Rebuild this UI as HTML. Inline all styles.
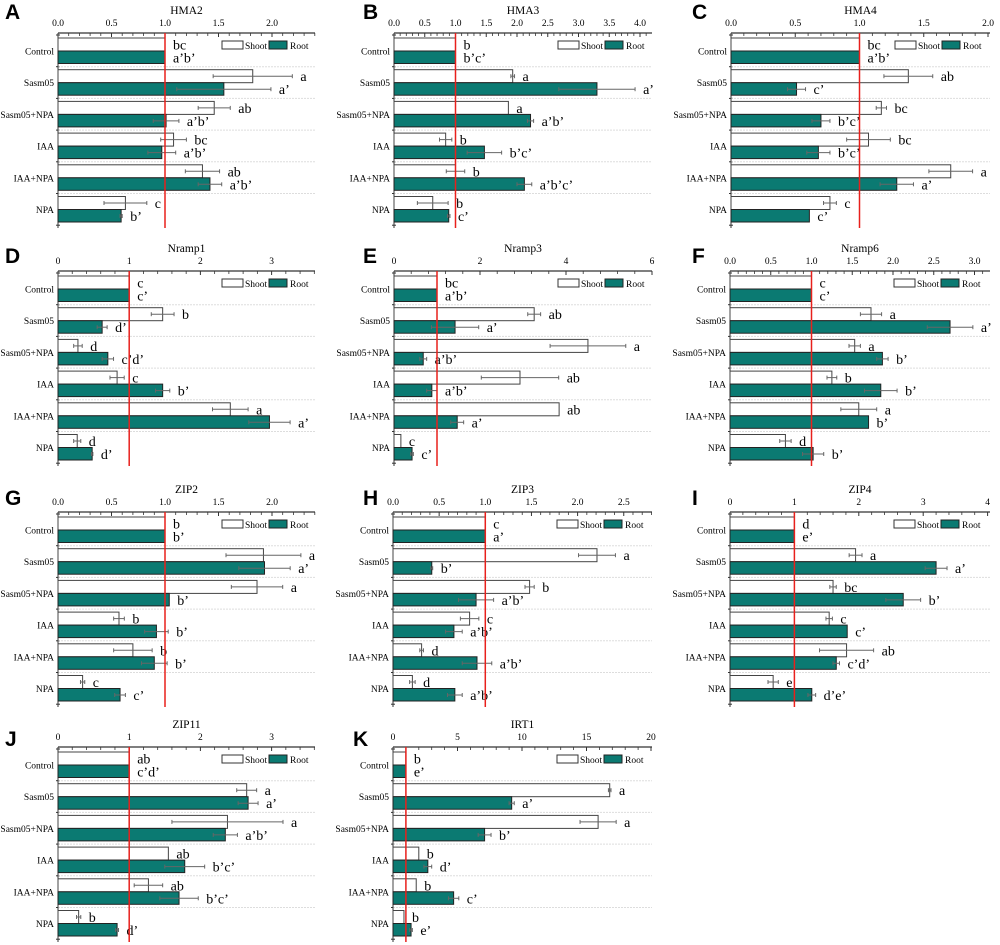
<!DOCTYPE html>
<html><head><meta charset="utf-8">
<style>
body{margin:0;background:#fff;}
svg{display:block;font-family:"Liberation Serif",serif;}
</style></head>
<body>
<svg id="fig" width="1000" height="945" viewBox="0 0 1000 945"></svg>
<script>
const categories = ["Control","Sasm05","Sasm05+NPA","IAA","IAA+NPA","NPA"];

const hma2Shoot = [1,1.82,1.46,1.08,1.35,0.63];
const hma2ShootErr = [0,0.37,0.15,0.12,0.16,0.2];
const hma2Root = [1,1.55,1.01,0.97,1.42,0.59];
const hma2RootErr = [0,0.44,0.12,0.13,0.11,0.01];
const hma2ShootLet = ["bc","a","ab","bc","ab","c"];
const hma2RootLet = ["a'b'","a'","a'b'","a'b'","a'b'","b'"];
const hma2Ticks = [0,0.5,1,1.5,2];

const hma3Shoot = [1,1.93,1.86,0.84,1.0,0.63];
const hma3ShootErr = [0,0.03,0,0.1,0.15,0.25];
const hma3Root = [1,3.3,2.22,1.47,2.12,0.89];
const hma3RootErr = [0,0.62,0.05,0.28,0.12,0.02];
const hma3ShootLet = ["b","a","a","b","b","b"];
const hma3RootLet = ["b'c'","a'","a'b'","b'c'","a'b'c'","c'"];
const hma3Ticks = [0,0.5,1,1.5,2,2.5,3,3.5,4];

const hma4Shoot = [1,1.38,1.17,1.07,1.71,0.77];
const hma4ShootErr = [0,0.19,0.04,0.17,0.17,0.05];
const hma4Root = [1,0.51,0.70,0.68,1.29,0.61];
const hma4RootErr = [0,0.07,0.07,0.09,0.13,0];
const hma4ShootLet = ["bc","ab","bc","bc","a","c"];
const hma4RootLet = ["a'b'","c'","b'c'","b'c'","a'","c'"];
const hma4Ticks = [0,0.5,1,1.5,2];

const nramp1Shoot = [1,1.47,0.28,0.83,2.42,0.27];
const nramp1ShootErr = [0,0.16,0.06,0.1,0.25,0.05];
const nramp1Root = [1,0.62,0.70,1.47,2.97,0.48];
const nramp1RootErr = [0,0.07,0.08,0.1,0.29,0.01];
const nramp1ShootLet = ["c","b","d","c","a","d"];
const nramp1RootLet = ["c'","d'","c'd'","b'","a'","d'"];
const nramp1Ticks = [0,1,2,3];

const nramp3Shoot = [1,3.26,4.51,2.93,3.84,0.16];
const nramp3ShootErr = [0,0.15,0.88,0.9,0,0];
const nramp3Root = [1,1.42,0.68,0.88,1.47,0.42];
const nramp3RootErr = [0,0.55,0.08,0.12,0.15,0.03];
const nramp3ShootLet = ["bc","ab","a","ab","ab","c"];
const nramp3RootLet = ["a'b'","a'","a'b'","a'b'","a'","c'"];
const nramp3Ticks = [0,2,4,6];

const nramp6Shoot = [1,1.73,1.53,1.25,1.58,0.68];
const nramp6ShootErr = [0,0.13,0.07,0.06,0.22,0.07];
const nramp6Root = [1,2.7,1.87,1.85,1.7,1.02];
const nramp6RootErr = [0,0.28,0.07,0.2,0,0.13];
const nramp6ShootLet = ["c","a","a","b","a","d"];
const nramp6RootLet = ["c'","a'","b'","b'","b'","b'"];
const nramp6Ticks = [0,0.5,1,1.5,2,2.5,3];

const zip2Shoot = [1,1.92,1.86,0.57,0.70,0.23];
const zip2ShootErr = [0,0.35,0.24,0.05,0.18,0.02];
const zip2Root = [1,1.93,1.04,0.92,0.90,0.58];
const zip2RootErr = [0,0.24,0,0.11,0.12,0.05];
const zip2ShootLet = ["b","a","a","b","b","c"];
const zip2RootLet = ["b'","a'","b'","b'","b'","c'"];
const zip2Ticks = [0,0.5,1,1.5,2];

const zip3Shoot = [1,2.21,1.48,0.83,0.31,0.21];
const zip3ShootErr = [0,0.2,0.05,0.1,0.02,0.03];
const zip3Root = [1,0.42,0.9,0.66,0.91,0.67];
const zip3RootErr = [0,0.01,0.19,0.09,0.16,0.08];
const zip3ShootLet = ["c","a","b","c","d","d"];
const zip3RootLet = ["a'","b'","a'b'","a'b'","a'b'","a'b'"];
const zip3Ticks = [0,0.5,1,1.5,2,2.5];

const zip4Shoot = [1,1.95,1.6,1.54,1.81,0.67];
const zip4ShootErr = [0,0.1,0.05,0.05,0.42,0.08];
const zip4Root = [1,3.2,2.69,1.82,1.65,1.27];
const zip4RootErr = [0,0.17,0.27,0,0.05,0.06];
const zip4ShootLet = ["d","a","bc","c","ab","e"];
const zip4RootLet = ["e'","a'","b'","c'","c'd'","d'e'"];
const zip4Ticks = [0,1,2,3,4];

const zip11Shoot = [1,2.65,2.38,1.55,1.27,0.29];
const zip11ShootErr = [0,0.14,0.78,0,0.2,0.03];
const zip11Root = [1,2.67,2.35,1.78,1.7,0.83];
const zip11RootErr = [0,0.14,0.17,0.28,0.27,0.02];
const zip11ShootLet = ["ab","a","a","ab","ab","b"];
const zip11RootLet = ["c'd'","a'","a'b'","b'c'","b'c'","d'"];
const zip11Ticks = [0,1,2,3];

const irt1Shoot = [1,16.8,15.9,2.0,1.8,0.85];
const irt1ShootErr = [0,0.1,1.4,0,0,0];
const irt1Root = [1,9.2,7.1,2.7,4.7,1.4];
const irt1RootErr = [0,0.2,0.5,0.3,0.4,0.1];
const irt1ShootLet = ["b","a","a","b","b","b"];
const irt1RootLet = ["e'","a'","b'","d'","c'","e'"];
const irt1Ticks = [0,5,10,15,20];

const NS = "http://www.w3.org/2000/svg";
const svg = document.getElementById("fig");
function mk(tag, attrs, parent, text){
  const e = document.createElementNS(NS, tag);
  for (const k in attrs) e.setAttribute(k, attrs[k]);
  if (text !== undefined) e.textContent = text;
  (parent||svg).appendChild(e);
  return e;
}

function panel(p){
  const g = mk("g", {});
  
  
  const xs = v => p.x0 + v * p.scale;
  const ay = p.axisY, pitch = 31.7, bottom = ay + 195;
  const pl = mk("text", {x:p.lx, y:p.ly, "font-family":"Liberation Sans, sans-serif", "font-weight":"bold", "font-size":21}, g, p.letter);
  
  
  const mid = (p.x0 + p.right) / 2;
  const tt = mk("text", {x:mid, y:ay-19, "text-anchor":"middle", "font-size":11.5}, g, p.title);
  
  
  const ax = mk("line", {x1:p.x0, y1:ay, x2:p.right, y2:ay, stroke:"#333", "stroke-width":1.2}, g);
  
  
  const ticks = p.ticks;
  const step = ticks[1] - ticks[0];
  for (let i = 0; i < ticks.length; i++) {
    const x = xs(ticks[i]);
    const tl = mk("text", {x:x, y:ay-7, "text-anchor":"middle", "font-size":9.5}, g, p.dec ? ticks[i].toFixed(1) : String(ticks[i]));
    
    
    mk("line", {x1:x, y1:ay, x2:x, y2:ay+4, stroke:"#333"}, g);
    for (let m = 1; m < 5; m++) {
      const mx = xs(ticks[i] + step * m / 5);
      if (mx <= p.right) mk("line", {x1:mx, y1:ay, x2:mx, y2:ay+3, stroke:"#333", "stroke-width":0.8}, g);
    }
  }
  for (let k = 0; k <= 6; k++) {
    const y = ay + 2 + pitch * k;
    mk("line", {x1:p.x0-2, y1:y, x2:p.x0+2, y2:y, stroke:"#333"}, g);
    if (k > 0 && k < 6) mk("line", {x1:p.x0, y1:y, x2:p.right, y2:y, stroke:"#ddd", "stroke-width":1, "stroke-dasharray":"2,1"}, g);
  }
  mk("line", {x1:p.x0, y1:ay, x2:p.x0, y2:bottom, stroke:"#333", "stroke-width":1}, g);
  for (let i = 0; i < categories.length; i++) {
    const top = ay + 5 + pitch * i;
    const cl = mk("text", {x:p.x0-4, y:top+16.5, "text-anchor":"end", "font-size":9.5}, g, categories[i]);
    
    
    const sv = p.shoot[i], rv = p.root[i];
    const sb = mk("rect", {x:p.x0, y:top, width:xs(sv)-p.x0, height:13, fill:"#fff", stroke:"#444", "stroke-width":1}, g);
    
    
    const rb = mk("rect", {x:p.x0, y:top+13, width:xs(rv)-p.x0, height:12.5, fill:"#0b7a72", stroke:"#222", "stroke-width":1}, g);
    
    
    const bars = [[sv, p.shootErr[i], top+6.5, p.shootLet[i]], [rv, p.rootErr[i], top+19.5, p.rootLet[i]]];
    for (const [v, e, cy, lt] of bars) {
      if (e > 0) {
        const x1 = xs(v - e), x2 = xs(v + e);
        mk("line", {x1:x1, y1:cy, x2:x2, y2:cy, stroke:"#666", "stroke-width":1}, g);
        mk("line", {x1:x1, y1:cy-2, x2:x1, y2:cy+2, stroke:"#666"}, g);
        mk("line", {x1:x2, y1:cy-2, x2:x2, y2:cy+2, stroke:"#666"}, g);
      }
      const lx = xs(v + e) + 8;
      const sl = mk("text", {x:lx, y:cy+5, "font-size":14}, g, lt.replace(/'/g, "\u2019"));
      
      
    }
  }
  const rl = mk("line", {x1:xs(1), y1:ay, x2:xs(1), y2:bottom, stroke:"#e8201c", "stroke-width":1.5}, g);
  
  
  const lgx = p.x0 + 164, lgy = ay + 8;
  const lg = mk("g", {}, g);
  
  
  mk("rect", {x:lgx, y:lgy, width:21, height:8, fill:"#fff", stroke:"#333"}, lg);
  mk("text", {x:lgx+23, y:lgy+8, "font-size":9.5}, lg, "Shoot");
  mk("rect", {x:lgx+47, y:lgy, width:18, height:8, fill:"#0b7a72", stroke:"#222"}, lg);
  mk("text", {x:lgx+68, y:lgy+8, "font-size":9.5}, lg, "Root");
}

const panels = [
 {id:"hma2", letter:"A", title:"HMA2", lx:5, ly:19, x0:58, axisY:33, right:315, scale:107, ticks:hma2Ticks, dec:true, shoot:hma2Shoot, shootErr:hma2ShootErr, root:hma2Root, rootErr:hma2RootErr, shootLet:hma2ShootLet, rootLet:hma2RootLet},
 {id:"hma3", letter:"B", title:"HMA3", lx:363, ly:19, x0:394, axisY:33, right:652, scale:61.5, ticks:hma3Ticks, dec:true, shoot:hma3Shoot, shootErr:hma3ShootErr, root:hma3Root, rootErr:hma3RootErr, shootLet:hma3ShootLet, rootLet:hma3RootLet},
 {id:"hma4", letter:"C", title:"HMA4", lx:692, ly:19, x0:731, axisY:33, right:990, scale:128.5, ticks:hma4Ticks, dec:true, shoot:hma4Shoot, shootErr:hma4ShootErr, root:hma4Root, rootErr:hma4RootErr, shootLet:hma4ShootLet, rootLet:hma4RootLet},
 {id:"nramp1", letter:"D", title:"Nramp1", lx:5, ly:263, x0:58, axisY:271, right:315, scale:71.2, ticks:nramp1Ticks, dec:false, shoot:nramp1Shoot, shootErr:nramp1ShootErr, root:nramp1Root, rootErr:nramp1RootErr, shootLet:nramp1ShootLet, rootLet:nramp1RootLet},
 {id:"nramp3", letter:"E", title:"Nramp3", lx:363, ly:263, x0:394, axisY:271, right:652, scale:43, ticks:nramp3Ticks, dec:false, shoot:nramp3Shoot, shootErr:nramp3ShootErr, root:nramp3Root, rootErr:nramp3RootErr, shootLet:nramp3ShootLet, rootLet:nramp3RootLet},
 {id:"nramp6", letter:"F", title:"Nramp6", lx:692, ly:263, x0:730, axisY:271, right:990, scale:81.5, ticks:nramp6Ticks, dec:true, shoot:nramp6Shoot, shootErr:nramp6ShootErr, root:nramp6Root, rootErr:nramp6RootErr, shootLet:nramp6ShootLet, rootLet:nramp6RootLet},
 {id:"zip2", letter:"G", title:"ZIP2", lx:5, ly:505, x0:58, axisY:512, right:315, scale:107, ticks:zip2Ticks, dec:true, shoot:zip2Shoot, shootErr:zip2ShootErr, root:zip2Root, rootErr:zip2RootErr, shootLet:zip2ShootLet, rootLet:zip2RootLet},
 {id:"zip3", letter:"H", title:"ZIP3", lx:363, ly:505, x0:393, axisY:512, right:652, scale:92.3, ticks:zip3Ticks, dec:true, shoot:zip3Shoot, shootErr:zip3ShootErr, root:zip3Root, rootErr:zip3RootErr, shootLet:zip3ShootLet, rootLet:zip3RootLet},
 {id:"zip4", letter:"I", title:"ZIP4", lx:692, ly:505, x0:730, axisY:512, right:990, scale:64.4, ticks:zip4Ticks, dec:false, shoot:zip4Shoot, shootErr:zip4ShootErr, root:zip4Root, rootErr:zip4RootErr, shootLet:zip4ShootLet, rootLet:zip4RootLet},
 {id:"zip11", letter:"J", title:"ZIP11", lx:5, ly:746, x0:58, axisY:747, right:315, scale:71.2, ticks:zip11Ticks, dec:false, shoot:zip11Shoot, shootErr:zip11ShootErr, root:zip11Root, rootErr:zip11RootErr, shootLet:zip11ShootLet, rootLet:zip11RootLet},
 {id:"irt1", letter:"K", title:"IRT1", lx:353, ly:746, x0:393, axisY:747, right:652, scale:12.9, ticks:irt1Ticks, dec:false, shoot:irt1Shoot, shootErr:irt1ShootErr, root:irt1Root, rootErr:irt1RootErr, shootLet:irt1ShootLet, rootLet:irt1RootLet}
];
panels.forEach(panel);
</script>
</body></html>
